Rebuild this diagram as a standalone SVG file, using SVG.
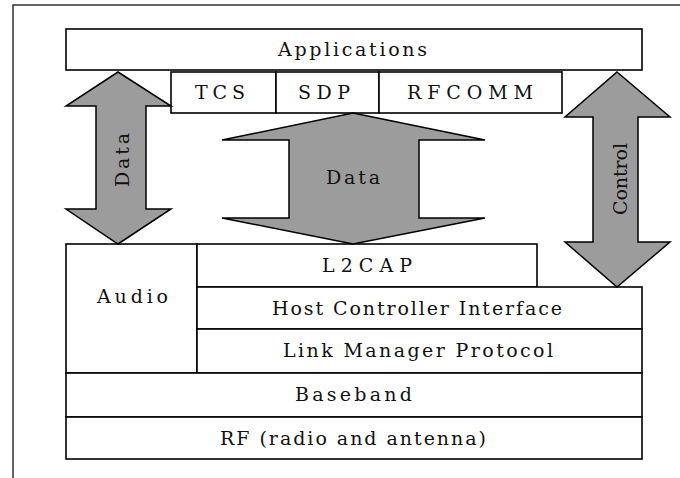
<svg xmlns="http://www.w3.org/2000/svg" width="680" height="478" viewBox="0 0 680 478">
  <style>
    .box { fill: #ffffff; stroke: #000000; stroke-width: 1.6; }
    .arrow { fill: #9c9c9c; stroke: #000000; stroke-width: 1.5; stroke-linejoin: miter; }
    .lbl { font-family: "DejaVu Serif", "Liberation Serif", serif; font-size: 19px; fill: #111111; text-anchor: middle; }
    .frame { fill: none; stroke: #333333; stroke-width: 1.5; }
  </style>

  <rect x="0" y="0" width="680" height="478" fill="#ffffff"/>
  <!-- outer frame (open to the right and bottom) -->
  <path class="frame" d="M13,478 V5 H680"/>

  <!-- protocol stack layers -->
  <g id="applications">
    <rect class="box" x="66" y="29" width="576" height="41"/>
    <text class="lbl" x="352.5" y="56" textLength="149" lengthAdjust="spacing">Applications</text>
  </g>
  <g id="tcs">
    <rect class="box" x="171" y="72" width="105" height="41"/>
    <text class="lbl" x="220" y="99" textLength="50" lengthAdjust="spacing">TCS</text>
  </g>
  <g id="sdp">
    <rect class="box" x="276" y="72" width="103" height="41"/>
    <text class="lbl" x="324" y="99" textLength="52" lengthAdjust="spacing">SDP</text>
  </g>
  <g id="rfcomm">
    <rect class="box" x="379" y="72" width="183" height="41"/>
    <text class="lbl" x="470" y="99" textLength="126" lengthAdjust="spacing">RFCOMM</text>
  </g>
  <g id="audio">
    <rect class="box" x="66" y="244" width="131" height="129"/>
    <text class="lbl" x="132.5" y="303" textLength="71" lengthAdjust="spacing">Audio</text>
  </g>
  <g id="l2cap">
    <rect class="box" x="197" y="244" width="340" height="43"/>
    <text class="lbl" x="367" y="272" textLength="90" lengthAdjust="spacing">L2CAP</text>
  </g>
  <g id="hci">
    <rect class="box" x="197" y="287" width="445" height="42"/>
    <text class="lbl" x="417" y="315" textLength="290" lengthAdjust="spacing">Host Controller Interface</text>
  </g>
  <g id="lmp">
    <rect class="box" x="197" y="329" width="445" height="44"/>
    <text class="lbl" x="418" y="357" textLength="270" lengthAdjust="spacing">Link Manager Protocol</text>
  </g>
  <g id="baseband">
    <rect class="box" x="66" y="373" width="576" height="44"/>
    <text class="lbl" x="353.5" y="401" textLength="117" lengthAdjust="spacing">Baseband</text>
  </g>
  <g id="rf">
    <rect class="box" x="66" y="417" width="576" height="42"/>
    <text class="lbl" x="353" y="445" textLength="266" lengthAdjust="spacing">RF (radio and antenna)</text>
  </g>

  <!-- data / control flows -->
  <g id="connectors">
    <g id="data-audio">
      <path class="arrow" d="M118,72 L171,106 H146 V209 H171 L118,244 L66,209 H96 V106 H66 Z"/>
      <text class="lbl" transform="translate(129,160) rotate(-90)" textLength="54" lengthAdjust="spacing">Data</text>
    </g>
    <g id="data-l2cap">
      <path class="arrow" d="M353,113 L485,140 H419 V218 H485 L353,244 L222,218 H289 V140 H222 Z"/>
      <text class="lbl" x="353" y="184" textLength="54" lengthAdjust="spacing">Data</text>
    </g>
    <g id="control">
      <path class="arrow" d="M617,72 L670,117 H638 V242 H670 L617,287 L565,242 H593 V117 H565 Z"/>
      <text class="lbl" transform="translate(627,179) rotate(-90)" textLength="72" lengthAdjust="spacing">Control</text>
    </g>
  </g>
</svg>
